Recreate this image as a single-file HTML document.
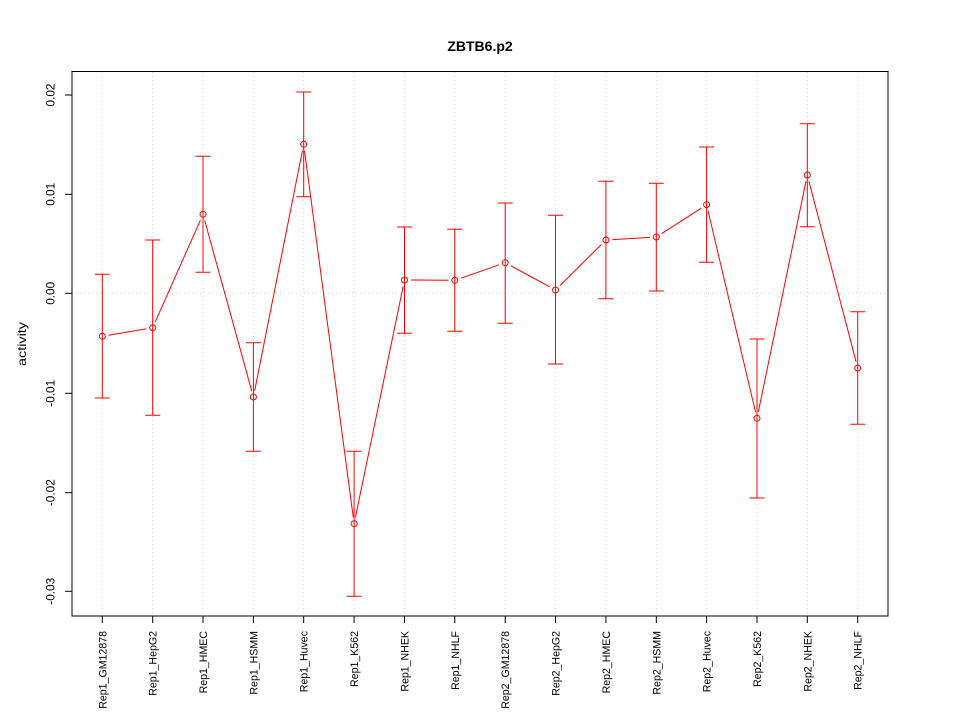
<!DOCTYPE html>
<html><head><meta charset="utf-8"><style>
html,body{margin:0;padding:0;background:#fff;}
svg{display:block;}
text{font-family:"Liberation Sans",Arial,sans-serif;fill:#000;}
</style></head><body>
<svg width="960" height="720" viewBox="0 0 960 720" xmlns="http://www.w3.org/2000/svg">
<rect width="960" height="720" fill="#fff"/>
<!-- grid -->
<g stroke="#d3d3d3" stroke-width="1" stroke-dasharray="1,3" fill="none">
<line x1="102.3" y1="72" x2="102.3" y2="616"/>
<line x1="152.7" y1="72" x2="152.7" y2="616"/>
<line x1="203.0" y1="72" x2="203.0" y2="616"/>
<line x1="253.4" y1="72" x2="253.4" y2="616"/>
<line x1="303.7" y1="72" x2="303.7" y2="616"/>
<line x1="354.1" y1="72" x2="354.1" y2="616"/>
<line x1="404.5" y1="72" x2="404.5" y2="616"/>
<line x1="454.8" y1="72" x2="454.8" y2="616"/>
<line x1="505.2" y1="72" x2="505.2" y2="616"/>
<line x1="555.5" y1="72" x2="555.5" y2="616"/>
<line x1="605.9" y1="72" x2="605.9" y2="616"/>
<line x1="656.3" y1="72" x2="656.3" y2="616"/>
<line x1="706.6" y1="72" x2="706.6" y2="616"/>
<line x1="757.0" y1="72" x2="757.0" y2="616"/>
<line x1="807.3" y1="72" x2="807.3" y2="616"/>
<line x1="857.7" y1="72" x2="857.7" y2="616"/>
<line x1="72" y1="293.3" x2="888" y2="293.3"/>
</g>
<!-- error bars -->
<g stroke="#ff0000" stroke-width="1" fill="none">
<path d="M102.3 274.3V398M94.8 274.3H109.8M94.8 398H109.8"/>
<path d="M152.7 240V415.3M145.2 240H160.2M145.2 415.3H160.2"/>
<path d="M203.0 156.3V272.3M195.5 156.3H210.5M195.5 272.3H210.5"/>
<path d="M253.4 342.7V451.3M245.9 342.7H260.9M245.9 451.3H260.9"/>
<path d="M303.7 92V196.7M296.2 92H311.2M296.2 196.7H311.2"/>
<path d="M354.1 451.3V596.3M346.6 451.3H361.6M346.6 596.3H361.6"/>
<path d="M404.5 227V333.3M397 227H412M397 333.3H412"/>
<path d="M454.8 229.3V331.3M447.3 229.3H462.3M447.3 331.3H462.3"/>
<path d="M505.2 203V323.3M497.7 203H512.7M497.7 323.3H512.7"/>
<path d="M555.5 215.3V364M548 215.3H563M548 364H563"/>
<path d="M605.9 181.3V298.7M598.4 181.3H613.4M598.4 298.7H613.4"/>
<path d="M656.3 183.3V291M648.8 183.3H663.8M648.8 291H663.8"/>
<path d="M706.6 147V262.3M699.1 147H714.1M699.1 262.3H714.1"/>
<path d="M757.0 339V498M749.5 339H764.5M749.5 498H764.5"/>
<path d="M807.3 123.7V226.7M799.8 123.7H814.8M799.8 226.7H814.8"/>
<path d="M857.7 311.7V424.3M850.2 311.7H865.2M850.2 424.3H865.2"/>
</g>
<!-- connecting lines -->
<g stroke="#ff0000" stroke-width="1" fill="none">
<line x1="108.61" y1="335.22" x2="146.39" y2="328.78"/>
<line x1="155.29" y1="321.85" x2="200.41" y2="220.15"/>
<line x1="204.70" y1="220.47" x2="251.70" y2="390.83"/>
<line x1="254.65" y1="390.72" x2="302.45" y2="150.58"/>
<line x1="304.54" y1="150.64" x2="353.26" y2="517.36"/>
<line x1="355.40" y1="517.43" x2="403.20" y2="286.27"/>
<line x1="410.9" y1="280.04" x2="448.4" y2="280.26"/>
<line x1="460.84" y1="278.19" x2="499.16" y2="264.81"/>
<line x1="510.83" y1="265.75" x2="549.87" y2="286.95"/>
<line x1="560.04" y1="285.49" x2="601.36" y2="244.51"/>
<line x1="612.29" y1="239.62" x2="649.91" y2="237.38"/>
<line x1="661.69" y1="233.54" x2="701.21" y2="208.16"/>
<line x1="708.07" y1="210.93" x2="755.53" y2="412.07"/>
<line x1="758.30" y1="412.03" x2="806.0" y2="181.27"/>
<line x1="808.92" y1="181.19" x2="856.08" y2="361.81"/>
</g>
<!-- points -->
<g stroke="#ff0000" stroke-width="1" fill="none">
<circle cx="102.3" cy="336.3" r="3"/>
<circle cx="152.7" cy="327.7" r="3"/>
<circle cx="203.0" cy="214.3" r="3"/>
<circle cx="253.4" cy="397" r="3"/>
<circle cx="303.7" cy="144.3" r="3"/>
<circle cx="354.1" cy="523.7" r="3"/>
<circle cx="404.5" cy="280" r="3"/>
<circle cx="454.8" cy="280.3" r="3"/>
<circle cx="505.2" cy="262.7" r="3"/>
<circle cx="555.5" cy="290" r="3"/>
<circle cx="605.9" cy="240" r="3"/>
<circle cx="656.3" cy="237" r="3"/>
<circle cx="706.6" cy="204.7" r="3"/>
<circle cx="757.0" cy="418.3" r="3"/>
<circle cx="807.3" cy="175" r="3"/>
<circle cx="857.7" cy="368" r="3"/>
</g>
<!-- box -->
<rect x="72" y="71.5" width="816" height="544.5" fill="none" stroke="#000" stroke-width="1"/>
<!-- y ticks -->
<g stroke="#000" stroke-width="1">
<line x1="65" y1="95" x2="72" y2="95"/>
<line x1="65" y1="194.3" x2="72" y2="194.3"/>
<line x1="65" y1="293.3" x2="72" y2="293.3"/>
<line x1="65" y1="393.3" x2="72" y2="393.3"/>
<line x1="65" y1="492.7" x2="72" y2="492.7"/>
<line x1="65" y1="591.3" x2="72" y2="591.3"/>
</g>
<g font-size="11.8" text-anchor="middle">
<text transform="translate(54.5,95) rotate(-90)">0.02</text>
<text transform="translate(54.5,194.3) rotate(-90)">0.01</text>
<text transform="translate(54.5,293.3) rotate(-90)">0.00</text>
<text transform="translate(54.5,393.3) rotate(-90)">-0.01</text>
<text transform="translate(54.5,492.7) rotate(-90)">-0.02</text>
<text transform="translate(54.5,591.3) rotate(-90)">-0.03</text>
</g>
<!-- x ticks -->
<g stroke="#000" stroke-width="1">
<line x1="102.3" y1="616" x2="102.3" y2="623"/>
<line x1="152.7" y1="616" x2="152.7" y2="623"/>
<line x1="203.0" y1="616" x2="203.0" y2="623"/>
<line x1="253.4" y1="616" x2="253.4" y2="623"/>
<line x1="303.7" y1="616" x2="303.7" y2="623"/>
<line x1="354.1" y1="616" x2="354.1" y2="623"/>
<line x1="404.5" y1="616" x2="404.5" y2="623"/>
<line x1="454.8" y1="616" x2="454.8" y2="623"/>
<line x1="505.2" y1="616" x2="505.2" y2="623"/>
<line x1="555.5" y1="616" x2="555.5" y2="623"/>
<line x1="605.9" y1="616" x2="605.9" y2="623"/>
<line x1="656.3" y1="616" x2="656.3" y2="623"/>
<line x1="706.6" y1="616" x2="706.6" y2="623"/>
<line x1="757.0" y1="616" x2="757.0" y2="623"/>
<line x1="807.3" y1="616" x2="807.3" y2="623"/>
<line x1="857.7" y1="616" x2="857.7" y2="623"/>
</g>
<g font-size="10.6" text-anchor="end">
<text transform="translate(106.3,631) rotate(-90)">Rep1_GM12878</text>
<text transform="translate(156.7,631) rotate(-90)">Rep1_HepG2</text>
<text transform="translate(207.0,631) rotate(-90)">Rep1_HMEC</text>
<text transform="translate(257.4,631) rotate(-90)">Rep1_HSMM</text>
<text transform="translate(307.7,631) rotate(-90)">Rep1_Huvec</text>
<text transform="translate(358.1,631) rotate(-90)">Rep1_K562</text>
<text transform="translate(408.5,631) rotate(-90)">Rep1_NHEK</text>
<text transform="translate(458.8,631) rotate(-90)">Rep1_NHLF</text>
<text transform="translate(509.2,631) rotate(-90)">Rep2_GM12878</text>
<text transform="translate(559.5,631) rotate(-90)">Rep2_HepG2</text>
<text transform="translate(609.9,631) rotate(-90)">Rep2_HMEC</text>
<text transform="translate(660.3,631) rotate(-90)">Rep2_HSMM</text>
<text transform="translate(710.6,631) rotate(-90)">Rep2_Huvec</text>
<text transform="translate(761.0,631) rotate(-90)">Rep2_K562</text>
<text transform="translate(811.3,631) rotate(-90)">Rep2_NHEK</text>
<text transform="translate(861.7,631) rotate(-90)">Rep2_NHLF</text>
</g>
<text transform="translate(26,344) rotate(-90)" font-size="12" text-anchor="middle" textLength="44" lengthAdjust="spacingAndGlyphs">activity</text>
<text x="480" y="51" font-size="14" font-weight="bold" text-anchor="middle">ZBTB6.p2</text>
</svg>
</body></html>
